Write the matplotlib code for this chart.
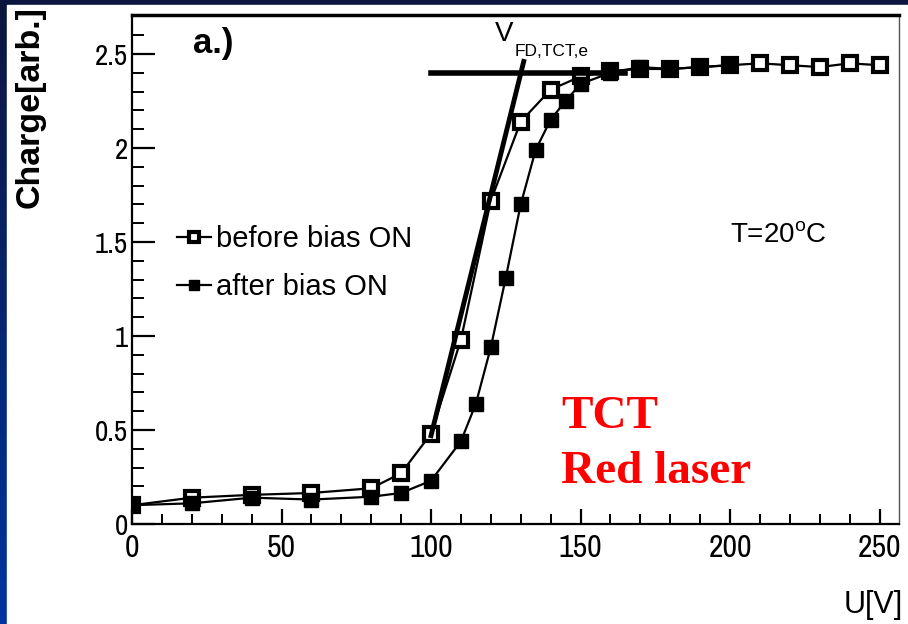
import numpy as np
import matplotlib

matplotlib.use('Agg')
import matplotlib.pyplot as plt
from matplotlib import font_manager
from matplotlib.ticker import MultipleLocator, FuncFormatter
from matplotlib.patches import Rectangle

# ---------------- data ----------------
before_x = [0, 20, 40, 60, 80, 90, 100, 110, 120, 130, 140, 150, 160,
            170, 180, 190, 200, 210, 220, 230, 240, 250]
before_y = [0.10, 0.14, 0.155, 0.165, 0.19, 0.27, 0.48, 0.98, 1.72, 2.14,
            2.31, 2.38, 2.41, 2.42, 2.42, 2.43, 2.44, 2.45, 2.44, 2.43,
            2.45, 2.44]

after_x = [0, 20, 40, 60, 80, 90, 100, 110, 115, 120, 125, 130, 135, 140,
           145, 150, 160, 170, 180, 190, 200]
after_y = [0.10, 0.11, 0.14, 0.13, 0.145, 0.165, 0.23, 0.44, 0.64, 0.94,
           1.31, 1.70, 1.99, 2.15, 2.25, 2.34, 2.40, 2.43, 2.42, 2.43, 2.44]

# linear fits used for the depletion voltage
plateau_x = [100, 165]
plateau_y = [2.40, 2.40]
rise_x = [100, 131]
rise_y = [0.47, 2.46]

labels = ['before bias ON', 'after bias ON']

# ---------------- fonts ----------------
names = set(f.name for f in font_manager.fontManager.ttflist)
TickFont = 'Liberation Sans'
for cand in ['Nimbus Sans Narrow', 'Liberation Sans Narrow', 'Archivo Narrow',
             'Roboto Condensed', 'Barlow Condensed']:
    if cand in names:
        TickFont = cand
        break
plt.rcParams['font.family'] = ['Liberation Sans', 'DejaVu Sans']
plt.rcParams['mathtext.fontset'] = 'custom'
plt.rcParams['mathtext.rm'] = 'Liberation Sans'

# ---------------- figure / slide background ----------------
Figure = plt.figure(figsize=(9.08, 6.24), dpi=100)
bg = Figure.add_axes([0, 0, 1, 1])
grad = np.linspace(0, 1, 256).reshape(-1, 1)
top_col = np.array([12, 22, 62]) / 255.0
bot_col = np.array([0, 52, 160]) / 255.0
img = top_col[None, None, :] * (1 - grad[:, :, None]) + bot_col[None, None, :] * grad[:, :, None]
bg.imshow(img, aspect='auto', extent=[0, 1, 0, 1])
bg.add_patch(Rectangle((7 / 908, 0), 1, 1 - 5 / 624, color='white', zorder=2))
bg.set_xlim(0, 1)
bg.set_ylim(0, 1)
bg.axis('off')

ax = Figure.add_axes([132 / 908, 100 / 624, 767 / 908, 509 / 624])
ax.set_facecolor('white')

# ---------------- curves ----------------
ax.plot(before_x, before_y, '-s', color='black', lw=1.6, ms=9.5,
        mfc='white', mec='black', mew=3.0, label=labels[0], zorder=3)
ax.plot(after_x, after_y, '-s', color='black', lw=1.6, ms=10.5,
        mfc='black', mec='black', label=labels[1], zorder=4)
ax.plot(plateau_x, plateau_y, '-', color='black', lw=4, zorder=5)
ax.plot(rise_x, rise_y, '-', color='black', lw=3.5, zorder=5)

# ---------------- axes ----------------
ax.set_xlim(0, 256.5)
ax.set_ylim(0, 2.707)
ax.xaxis.set_major_locator(MultipleLocator(50))
ax.xaxis.set_minor_locator(MultipleLocator(10))
ax.yaxis.set_major_locator(MultipleLocator(0.5))
ax.yaxis.set_minor_locator(MultipleLocator(0.1))
ax.yaxis.set_major_formatter(FuncFormatter(lambda v, p: '%g' % v))
ax.tick_params(axis='x', which='major', direction='in', length=11, width=1.6,
               pad=7, labelsize=23)
ax.tick_params(axis='x', which='minor', direction='in', length=7, width=1.4)
ax.tick_params(axis='y', which='major', direction='in', length=16.5, width=1.6,
               pad=3, labelsize=21)
ax.tick_params(axis='y', which='minor', direction='in', length=8.6, width=1.4)
for lab in ax.get_xticklabels() + ax.get_yticklabels():
    lab.set_family(TickFont)

ax.spines['top'].set_linewidth(2.5)
ax.spines['left'].set_linewidth(1.6)
ax.spines['bottom'].set_linewidth(1.6)
ax.spines['right'].set_linewidth(1.0)
ax.spines['right'].set_color('#555555')

# ---------------- texts ----------------
Figure.text(30 / 908, 1 - 6 / 624, 'Charge[arb.]', rotation=90, ha='center',
            va='top', fontsize=24.5, fontweight='bold')
Figure.text(903 / 908, 4 / 624, 'U[V]', ha='right', va='bottom', fontsize=22)

ax.text(20.4, 2.505, 'a.)', fontsize=25, fontweight='bold', va='baseline')
ax.text(121.4, 2.57, 'V', fontsize=20, va='baseline')
ax.text(128.0, 2.49, 'FD,TCT,e', fontsize=12.5, va='baseline')
ax.text(200, 1.495, r'T=20$^{\rm o}$C', fontsize=20, va='baseline')

ax.text(143.5, 0.51, 'TCT', fontsize=34, fontweight='bold', color='#ff0000',
        family='Liberation Serif', va='baseline')
ax.text(143.5, 0.218, 'Red laser', fontsize=34, fontweight='bold',
        color='#ff0000', family='Liberation Serif', va='baseline')

ax.legend(loc='upper left', bbox_to_anchor=(0.0587, 0.587), frameon=False,
          fontsize=21, markerscale=0.75, handlelength=1.15, handletextpad=0.17,
          labelspacing=0.68, borderpad=0, borderaxespad=0)

Figure.savefig('out.png', dpi=100)
